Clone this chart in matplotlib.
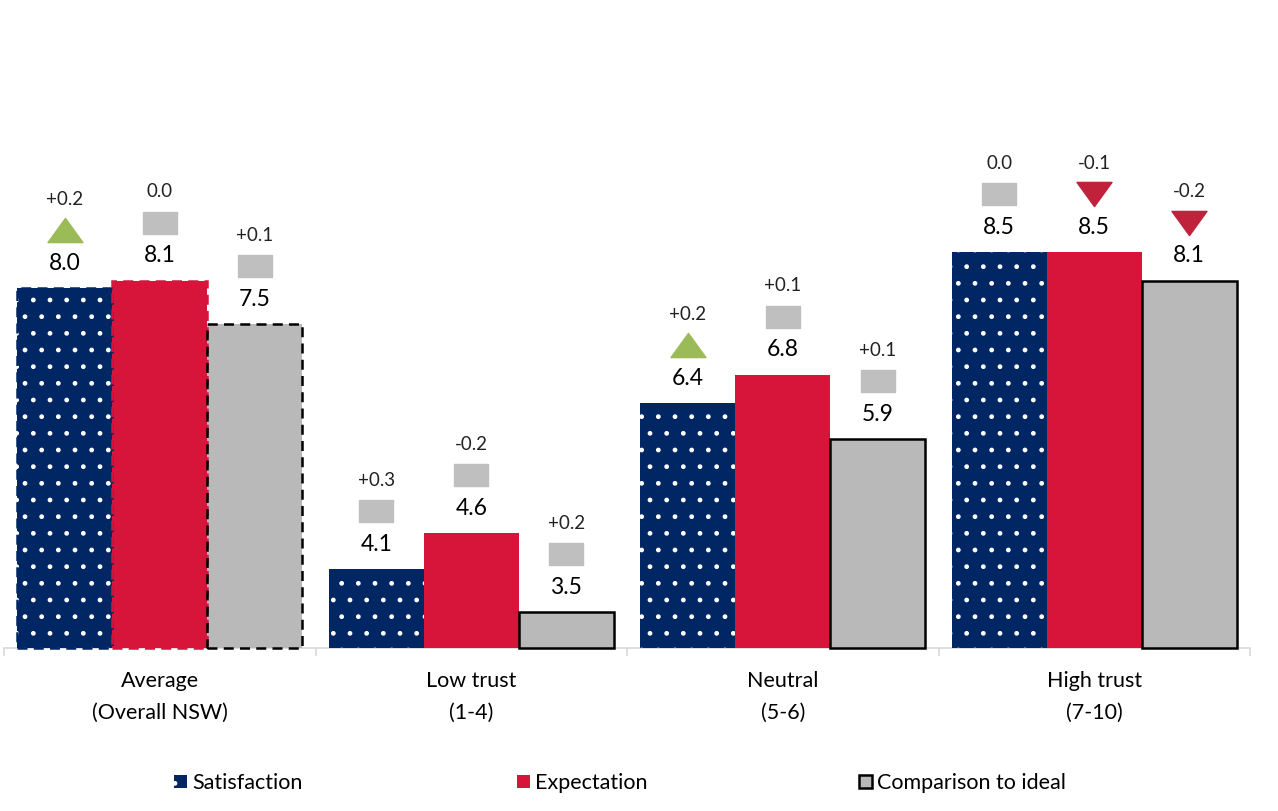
import matplotlib
matplotlib.use("Agg")
import matplotlib.pyplot as plt
from matplotlib.patches import Patch
from matplotlib.path import Path
from matplotlib.transforms import offset_copy
import numpy as np

plt.rcParams['font.family'] = ['Lato', 'DejaVu Sans']

groups = ['Average\n(Overall NSW)', 'Low trust\n(1-4)', 'Neutral\n(5-6)', 'High trust\n(7-10)']
series_names = ['Satisfaction', 'Expectation', 'Comparison to ideal']

satisfaction = [8.0, 4.1, 6.4, 8.5]
expectation = [8.1, 4.6, 6.8, 8.5]
ideal = [7.5, 3.5, 5.9, 8.1]

# change vs previous wave, and whether it was a significant move
satisfaction_change = ['+0.2', '+0.3', '+0.2', '0.0']
expectation_change = ['0.0', '-0.2', '+0.1', '-0.1']
ideal_change = ['+0.1', '+0.2', '+0.1', '-0.2']
satisfaction_trend = ['up', 'flat', 'up', 'flat']
expectation_trend = ['flat', 'flat', 'flat', 'down']
ideal_trend = ['flat', 'flat', 'flat', 'down']

NAVY = '#002664'
RED = '#D7153A'
GREY = '#B9B9B9'
AXIS_GREY = '#D9D9D9'

# custom marker shapes for the change indicators
flat_marker = Path([(-1.5, -1), (1.5, -1), (1.5, 1), (-1.5, 1), (-1.5, -1)],
                   [Path.MOVETO, Path.LINETO, Path.LINETO, Path.LINETO, Path.CLOSEPOLY])
up_marker = Path([(-1, -0.69), (1, -0.69), (0, 0.69), (-1, -0.69)],
                 [Path.MOVETO, Path.LINETO, Path.LINETO, Path.CLOSEPOLY])
down_marker = Path([(-1, 0.69), (1, 0.69), (0, -0.69), (-1, 0.69)],
                   [Path.MOVETO, Path.LINETO, Path.LINETO, Path.CLOSEPOLY])
trend_style = {
    'up': (up_marker, '#9BBB59', 25),
    'flat': (flat_marker, '#BFBFBF', 24),
    'down': (down_marker, '#C0223B', 25),
}

dpi = 100
fig = plt.figure(figsize=(12.78, 8.11), dpi=dpi)
ax = fig.add_axes([4 / 1278, 0.2006, 1246 / 1278, 0.7994])

y_min, y_max = 3.0, 12.0
x = np.arange(len(groups))
width = 0.305

def draw_series(offset, values, face, edge, hatch, outline, outline_lw):
    xs = x + offset
    heights = [v - y_min for v in values]
    ax.bar(xs, heights, width, bottom=y_min, color=face, edgecolor=edge,
           linewidth=0, hatch=hatch, zorder=2, clip_on=False)
    # average column gets a dashed border, the others keep the plain style
    for i in range(len(values)):
        if i == 0:
            ax.bar(xs[i], heights[i], width, bottom=y_min, fill=False,
                   edgecolor=outline[0], linewidth=1.8, linestyle=(0, (4, 2.5)),
                   zorder=3, clip_on=False)
        elif outline[1] is not None:
            ax.bar(xs[i], heights[i], width, bottom=y_min, fill=False,
                   edgecolor=outline[1], linewidth=outline_lw, zorder=3,
                   clip_on=False)

draw_series(-width, satisfaction, NAVY, 'white', '.', (NAVY, None), 0)
draw_series(0, expectation, RED, RED, None, (RED, None), 0)
draw_series(width, ideal, GREY, GREY, None, ('black', 'black'), 1.8)

marker_trans = offset_copy(ax.transData, fig=fig, x=0, y=58, units='dots')

def annotate_series(offset, values, changes, trends):
    for i, v in enumerate(values):
        xi = x[i] + offset
        ax.annotate(f'{v:.1f}', xy=(xi, v), xytext=(0, 25), textcoords='offset pixels',
                    ha='center', va='center', fontsize=16.5, color='black')
        ax.annotate(changes[i], xy=(xi, v), xytext=(0, 89), textcoords='offset pixels',
                    ha='center', va='center', fontsize=13.5, color='#222222')
        shape, colour, size = trend_style[trends[i]]
        ax.plot([xi], [v], marker=shape, markersize=size * 72 / dpi * 1.4,
                color=colour, linestyle='none', transform=marker_trans, clip_on=False)

annotate_series(-width, satisfaction, satisfaction_change, satisfaction_trend)
annotate_series(0, expectation, expectation_change, expectation_trend)
annotate_series(width, ideal, ideal_change, ideal_trend)

ax.set_xlim(-0.5, len(groups) - 0.5)
ax.set_ylim(y_min, y_max)
ax.set_yticks([])
for side in ['left', 'right', 'top']:
    ax.spines[side].set_visible(False)
ax.spines['bottom'].set_color(AXIS_GREY)
ax.spines['bottom'].set_linewidth(1.2)
ax.spines['bottom'].set_zorder(1)

ax.set_xticks(x)
ax.set_xticklabels(groups, fontsize=15.5, linespacing=1.75)
ax.set_xticks(np.arange(-0.5, len(groups)), minor=True)
ax.tick_params(axis='x', which='major', length=0, pad=16)
ax.tick_params(axis='x', which='minor', length=6, width=1.2, color=AXIS_GREY)

legend_handles = [
    Patch(facecolor=NAVY, edgecolor='white', hatch='.', linewidth=0),
    Patch(facecolor=RED, edgecolor=RED, linewidth=0),
    Patch(facecolor=GREY, edgecolor='black', linewidth=1.8),
]
legend_x = [174 / 1278, 517 / 1278, 859 / 1278]
for handle, name, lx in zip(legend_handles, series_names, legend_x):
    fig.legend([handle], [name], loc='center left', bbox_to_anchor=(lx, 1 - 783 / 811),
               frameon=False, fontsize=15.5, handlelength=0.6, handleheight=0.6,
               handletextpad=0.25, borderpad=0, borderaxespad=0)

fig.savefig('out.png', dpi=dpi)
